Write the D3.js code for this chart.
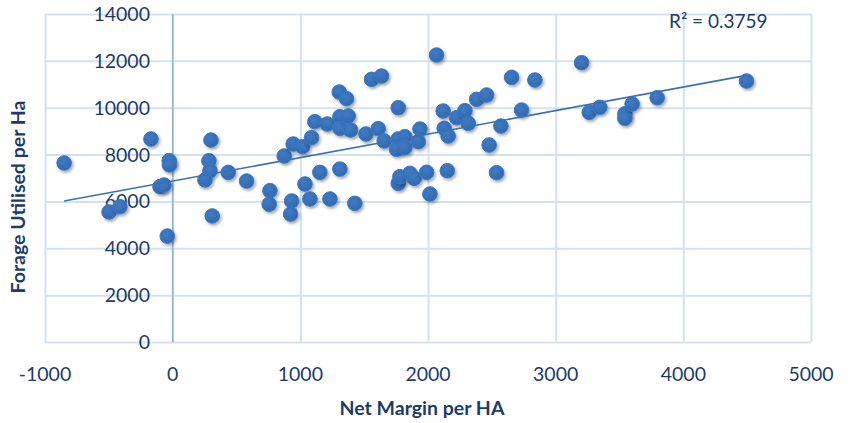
<!DOCTYPE html>
<html>
<head>
<meta charset="utf-8">
<script src="https://cdn.jsdelivr.net/npm/d3@7"></script>
<style>
  html, body { margin: 0; padding: 0; background: #fff; }
  svg { display: block; font-family: Lato, "Open Sans", sans-serif; }
</style>
</head>
<body>
<svg id="chart" width="850" height="423"></svg>
<script>
// Data (Net Margin per HA, Forage Utilised per Ha)
const netMargin = [-850, -170, -498, -413, -99, -68, -27, -25, -42, 300, 284, 292, 253, 435, 579, 310,
  762, 756, 932, 924, 874, 944, 1305, 1362, 1558, 1636, 1767, 2067, 1114, 1211, 1310, 1375, 1310, 1394,
  1514, 1610, 1657, 1767, 1819, 1754, 1819, 1937, 1924, 2119, 2127, 2158, 2224, 2289, 2315, 2381, 2459,
  2479, 2537, 1018, 1088, 1036, 1153, 1075, 1232, 1310, 1427, 1767, 1780, 1858, 1892, 1989, 2015, 2151,
  3203, 2655, 2837, 2733, 2571, 3263, 3346, 3542, 3542, 3599, 3795, 4495];
const forage = [7640, 8665, 5550, 5774, 6630, 6700, 7740, 7560, 4520, 8620, 7740, 7310, 6915, 7240, 6870, 5380,
  6460, 5880, 6020, 5460, 7940, 8450, 10670, 10385, 11212, 11353, 10000, 12249, 9403, 9304, 9616, 9645, 9120, 9048,
  8877, 9104, 8578, 8664, 8763, 8224, 8296, 9091, 8549, 9859, 9120, 8792, 9573, 9872, 9334, 10358, 10541,
  8408, 7226, 8336, 8720, 6743, 7243, 6103, 6103, 7383, 5918, 6771, 7055, 7199, 6985, 7243, 6316, 7311,
  11920, 11297, 11182, 9900, 9218, 9803, 10017, 9740, 9548, 10158, 10427, 11140];
const xTicks = [-1000, 0, 1000, 2000, 3000, 4000, 5000];
const yTicks = [0, 2000, 4000, 6000, 8000, 10000, 12000, 14000];
const xTitle = "Net Margin per HA";
const yTitle = "Forage Utilised per Ha";
const r2Label = "R² = 0.3759";

(function () {
const svg = d3.select("#chart");
const pL = 45, pR = 811, pT = 14, pB = 342;
const x = d3.scaleLinear().domain([-1000, 5000]).range([pL, pR]);
const y = d3.scaleLinear().domain([0, 14000]).range([pB, pT]);
const textColor = "#1d3b6a";
const gridColor = "#d5e1f1";

// drop shadow filter
const defs = svg.append("defs");
const f = defs.append("filter").attr("id", "shadow").attr("x", "-50%").attr("y", "-50%").attr("width", "200%").attr("height", "200%");
f.append("feDropShadow").attr("dx", 1.5).attr("dy", 2).attr("stdDeviation", 1.4)
  .attr("flood-color", "#000").attr("flood-opacity", 0.35);
const grad = defs.append("radialGradient").attr("id", "mk").attr("cx", "40%").attr("cy", "35%").attr("r", "70%");
grad.append("stop").attr("offset", "0%").attr("stop-color", "#3f7bc4");
grad.append("stop").attr("offset", "100%").attr("stop-color", "#2f68ae");

// gridlines
const gy = svg.append("g").attr("transform", `translate(${pL},0)`)
  .call(d3.axisLeft(y).tickValues(yTicks).tickSize(-(pR - pL)).tickFormat(""));
gy.select(".domain").remove();
gy.selectAll("line").attr("stroke", gridColor).attr("stroke-width", 2);

const gx = svg.append("g").attr("transform", `translate(0,${pB})`)
  .call(d3.axisBottom(x).tickValues(xTicks).tickSize(-(pB - pT)).tickFormat(""));
gx.select(".domain").remove();
gx.selectAll("line").attr("stroke", gridColor).attr("stroke-width", 2);

// vertical axis at x = 0
svg.append("line").attr("x1", x(0)).attr("x2", x(0)).attr("y1", pT).attr("y2", pB)
  .attr("stroke", "#8fb2e0").attr("stroke-width", 1.6);

// y tick labels
svg.append("g").selectAll("text").data(yTicks).join("text")
  .attr("x", 150).attr("y", d => y(d)).attr("dy", "0.36em")
  .attr("text-anchor", "end").attr("fill", textColor).attr("font-size", 19.5)
  .text(d => d);

// x tick labels
svg.append("g").selectAll("text").data(xTicks).join("text")
  .attr("x", d => x(d)).attr("y", 381)
  .attr("text-anchor", "middle").attr("fill", textColor).attr("font-size", 19.5)
  .text(d => d);

// axis titles
svg.append("text").attr("x", 422).attr("y", 415).attr("text-anchor", "middle")
  .attr("fill", textColor).attr("font-size", 19.5).attr("font-weight", "bold").text(xTitle);
svg.append("text").attr("transform", "translate(25,197) rotate(-90)").attr("text-anchor", "middle")
  .attr("fill", textColor).attr("font-size", 19.5).attr("font-weight", "bold").text(yTitle);

// points
const pts = netMargin.map((v, i) => [v, forage[i]]);
svg.append("g").selectAll("circle").data(pts).join("circle")
  .attr("cx", d => x(d[0])).attr("cy", d => y(d[1])).attr("r", 7.3)
  .attr("fill", "url(#mk)").attr("stroke", "#3e78c0").attr("stroke-width", 1)
  .attr("filter", "url(#shadow)");

// linear trendline (least squares)
const mx = d3.mean(netMargin), my = d3.mean(forage);
let sxy = 0, sxx = 0;
netMargin.forEach((v, i) => { sxy += (v - mx) * (forage[i] - my); sxx += (v - mx) * (v - mx); });
const slope = sxy / sxx, icpt = my - slope * mx;
const [x0, x1] = d3.extent(netMargin);
svg.append("line")
  .attr("x1", x(x0)).attr("y1", y(icpt + slope * x0))
  .attr("x2", x(x1)).attr("y2", y(icpt + slope * x1))
  .attr("stroke", "#3a70b6").attr("stroke-width", 1.6);

// R² label
svg.append("text").attr("x", 669).attr("y", 28).attr("fill", textColor).attr("font-size", 19).text(r2Label);
})();
</script>
</body>
</html>
